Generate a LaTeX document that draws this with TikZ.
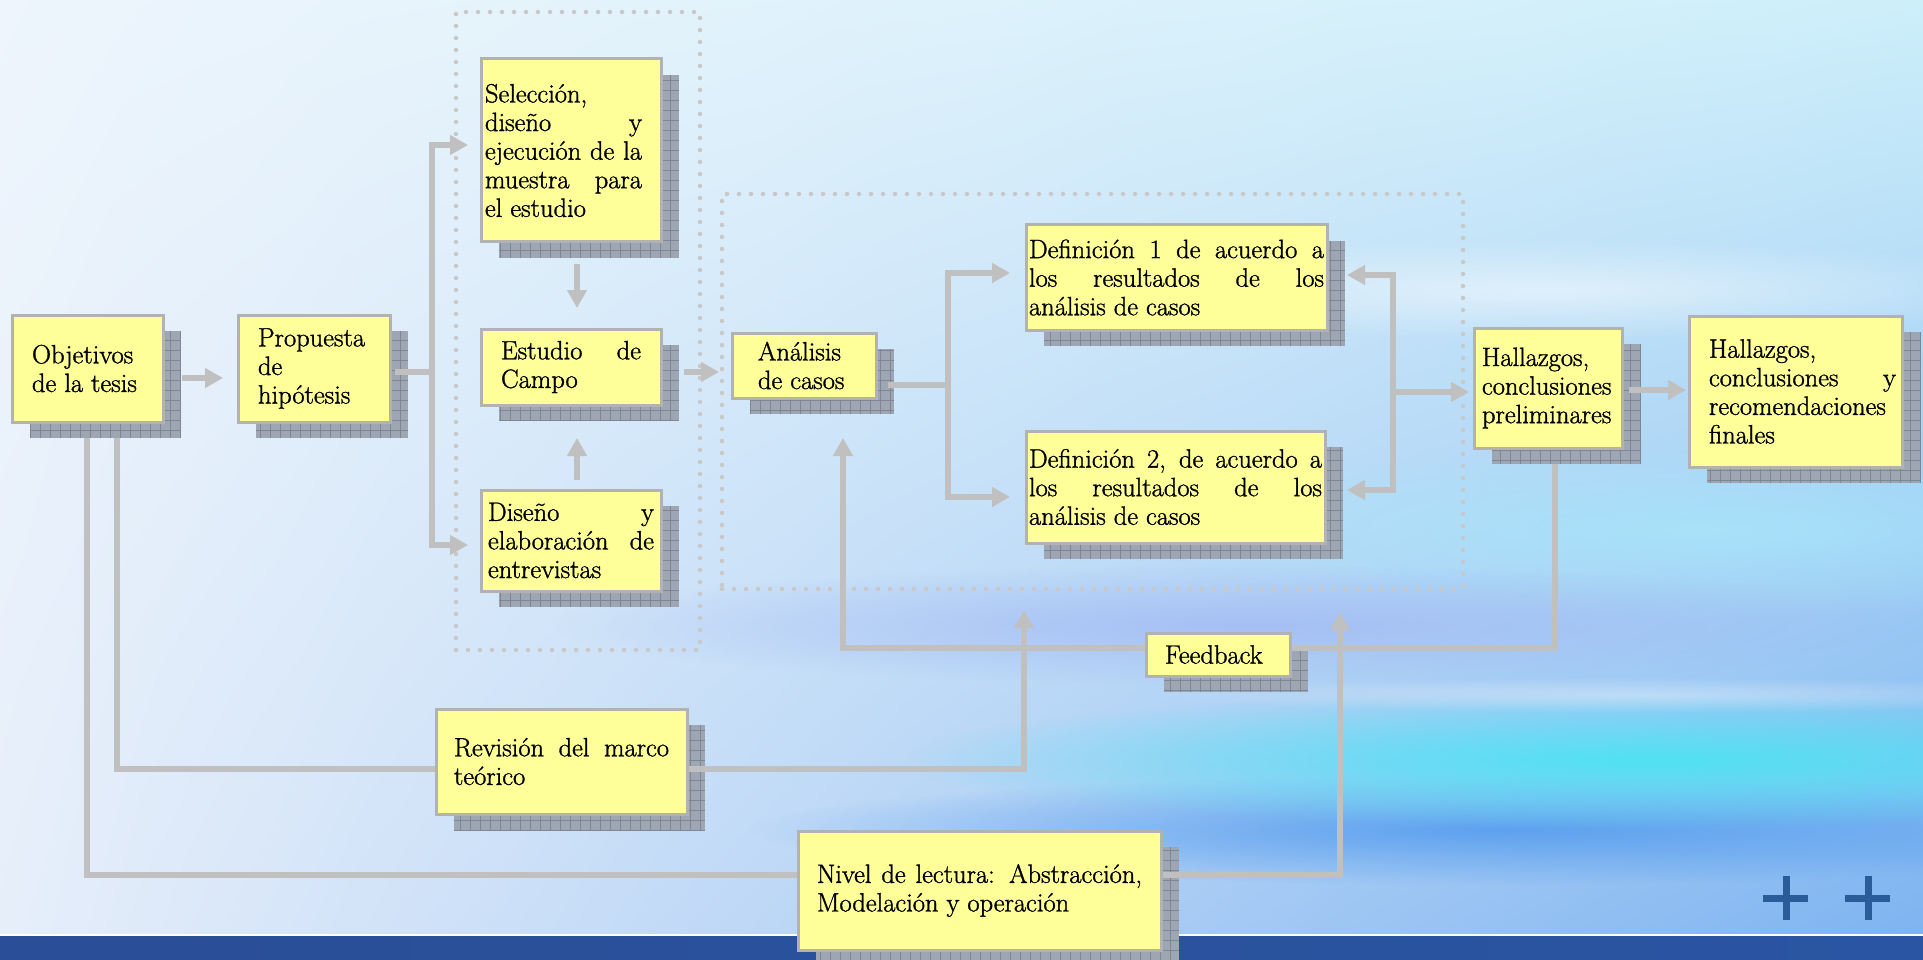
\documentclass[tikz,border=0pt]{standalone}
\usepackage{fontspec}
\newfontfamily\boxfam{lmroman17-regular.otf}[FakeBold=1.2]
\usetikzlibrary{arrows.meta,calc,fadings,shadings}
\definecolor{boxfill}{HTML}{FFFF99}
\definecolor{boxline}{HTML}{B2B2B2}
\definecolor{linegray}{HTML}{C0C0C0}
\definecolor{dotgray}{HTML}{C8C8C8}
\definecolor{shfill}{HTML}{9EA6B4}
\definecolor{shgrid}{HTML}{7E8694}
\definecolor{bgUL}{HTML}{EEF5FC}
\definecolor{bgUR}{HTML}{CDEFFA}
\definecolor{bgLL}{HTML}{E6EEFA}
\definecolor{bgLR}{HTML}{7CB2F0}
\definecolor{streakc}{HTML}{50E2F4}
\definecolor{streakb}{HTML}{4E98EE}
\definecolor{streakl}{HTML}{A2BAF4}
\definecolor{streakw}{HTML}{A8E6FA}
\definecolor{barL}{HTML}{2A4E97}
\definecolor{barM}{HTML}{3434A8}
\definecolor{barR}{HTML}{2A55A2}
\definecolor{plusc}{HTML}{2B5C9A}
\tikzfading[name=softfade, inner color=transparent!0, outer color=transparent!100]
\pgfdeclarelayer{back}
\pgfdeclarelayer{bg}
\pgfdeclarelayer{conn}
\pgfsetlayers{back,bg,conn,main}
\newcommand\boxfont{\boxfam\fontsize{26.5pt}{28.6pt}\selectfont\parindent=0pt\tolerance=10000\hbadness=10000\hfuzz=20pt\relax}
\tikzset{
  box/.style={draw=boxline, fill=boxfill, line width=3pt, anchor=north west,
    outer sep=0pt, inner ysep=0pt, font=\boxfont, align=justify},
  conn/.style={draw=linegray, line width=6pt},
  arr/.style={conn, -{Triangle[length=18pt,width=19pt]}},
  dotgroup/.style={draw=dotgray, line width=4.5pt, dash pattern=on 0pt off 12pt,
    line cap=round, anchor=north west, outer sep=0pt, inner sep=0pt},
  shadowbox/.style={fill=shfill},
  shadowgrid/.style={draw=shgrid, line width=0.8pt},
}
\begin{document}
\begin{tikzpicture}[x=1pt,y=-1pt]
\useasboundingbox (0,0) rectangle (1923,960);
% background
\begin{pgfonlayer}{back}
  \shade[upper left=bgUL, upper right=bgUR, lower left=bgLL, lower right=bgLR] (0,0) rectangle (1923,960);
  \fill[streakw, path fading=softfade, opacity=0.8] (1700,530) ellipse [x radius=600, y radius=90];
  \fill[white, path fading=softfade, opacity=0.5] (1550,290) ellipse [x radius=520, y radius=50];
  \fill[streakl, path fading=softfade, opacity=0.8] (1250,625) ellipse [x radius=700, y radius=60];
  \fill[streakb, path fading=softfade, opacity=0.8] (1500,830) ellipse [x radius=750, y radius=55];
  \fill[streakc, path fading=softfade, opacity=1] (1650,760) ellipse [x radius=750, y radius=70];
  \fill[white, path fading=softfade, opacity=0.35] (1650,695) ellipse [x radius=500, y radius=18];
  \fill[white] (0,933.5) rectangle (1923,936.5);
  \shade[left color=barL, middle color=barM, right color=barR] (0,936.5) rectangle (1923,960);
  \draw[plusc, line width=7pt] (1763,898) -- (1808,898) (1786,876) -- (1786,920)
        (1845,898) -- (1890,898) (1868,876) -- (1868,920);
\end{pgfonlayer}
% dotted groups
\begin{pgfonlayer}{bg}
  \node[dotgroup, minimum width=244pt, minimum height=638pt] (g1) at (456,12) {};
  \node[dotgroup, minimum width=741pt, minimum height=395pt] (g2) at (722,194) {};
\end{pgfonlayer}
% boxes
\node[box, minimum width=151pt, minimum height=107pt, text width=111pt, inner xsep=20pt] (obj) at (12,315) {Objetivos\\de la tesis};
\node[box, minimum width=152pt, minimum height=107pt, text width=112pt, inner xsep=20pt] (prop) at (238,315) {Propuesta\\de\\hipótesis};
\node[box, minimum width=180pt, minimum height=183pt, text width=172pt, inner xsep=4pt] (sel) at (481,59)
  {\rightskip=15pt\relax Selección,\\ diseño y\linebreak ejecución de la\linebreak muestra para\linebreak el estudio\par\vspace*{19pt}};
\node[box, minimum width=180pt, minimum height=76pt, text width=140pt, inner xsep=20pt] (est) at (481,329) {Estudio de\linebreak Campo};
\node[box, minimum width=180pt, minimum height=101pt, text width=166pt, inner xsep=7pt] (dis) at (481,490) {Diseño y\linebreak elaboración de\linebreak entrevistas};
\node[box, minimum width=144pt, minimum height=65pt, text width=92pt, inner xsep=26pt] (ana) at (732,333) {Análisis\\de casos};
\node[box, minimum width=301pt, minimum height=105pt, text width=295pt, inner xsep=3pt] (d1) at (1026,225)
  {Definición 1 de acuerdo a\linebreak los resultados de los\linebreak análisis de casos};
\node[box, minimum width=299pt, minimum height=112pt, text width=293pt, inner xsep=3pt] (d2) at (1026,431)
  {\rightskip=15pt\relax Definición 2, de acuerdo a\linebreak los resultados de los\linebreak análisis de casos};
\node[box, minimum width=148pt, minimum height=120pt, text width=132pt, inner xsep=8pt] (hp) at (1474,328)
  {Hallazgos,\\conclusiones\\preliminares\par\vspace*{6pt}};
\node[box, minimum width=213pt, minimum height=151pt, text width=201pt, inner xsep=6pt] (hf) at (1689,316)
  {\leftskip=14pt\relax Hallazgos,\\ conclusiones y\linebreak recomendaciones\\ finales\par\vspace*{20pt}};
\node[box, minimum width=144pt, minimum height=43pt, text width=106pt, inner xsep=19pt] (fb) at (1146,633) {Feedback};
\node[box, minimum width=251pt, minimum height=105pt, text width=215pt, inner xsep=18pt] (rev) at (436,709)
  {Revisión del marco\linebreak teórico\par\vspace*{7pt}};
\node[box, minimum width=363pt, minimum height=119pt, text width=325pt, inner xsep=19pt] (niv) at (798,831)
  {Nivel de lectura: Abstracción,\linebreak Modelación y operación\par\vspace*{16pt}};
% shadows
\begin{pgfonlayer}{bg}
  \foreach \n in {obj,prop,sel,est,dis,ana,d1,d2,hp,hf,fb,rev,niv}{
    \fill[shadowbox] ($(\n.south west)+(18,16)$) rectangle ($(\n.north east)+(18,16)$);
    \draw[shadowgrid, step=10pt] ($(\n.south west)+(18,16)$) grid ($(\n.north east)+(18,16)$);
  }
\end{pgfonlayer}
% connectors
\begin{pgfonlayer}{conn}
  \draw[arr] ($(obj.east)+(19,9.5)$) -- ($(prop.west)+(-15,9.5)$);
  \coordinate (j1) at (432,372);
  \draw[conn] ($(prop.east)+(5,3.5)$) -- (j1);
  \draw[arr] (j1) |- ($(sel.west)+(-13,-5.5)$);
  \draw[arr] (j1) |- ($(dis.west)+(-13,4.5)$);
  \draw[arr] ($(sel.south)+(6,22)$) -- ($(est.north)+(6,-21)$);
  \draw[arr] ($(dis.north)+(6,-10)$) -- ($(est.south)+(6,33)$);
  \draw[arr] ($(est.east)+(23,5)$) -- ($(ana.west)+(-13,6.5)$);
  \coordinate (j2) at (948,385);
  \draw[conn] ($(ana.east)+(12,19.5)$) -- (j2);
  \draw[arr] (j2) |- ($(d1.west)+(-16,-4.5)$);
  \draw[arr] (j2) |- ($(d2.west)+(-16,10)$);
  \coordinate (j3) at (1393,392);
  \draw[arr] (j3) -- ($(hp.west)+(-5,4)$);
  \draw[arr] (j3) |- ($(d1.east)+(20,-2.5)$);
  \draw[arr] (j3) |- ($(d2.east)+(22,3)$);
  \draw[arr] ($(hp.east)+(7,2)$) -- ($(hf.west)+(-3,-1.5)$);
  \draw[arr] ($(hp.south)+(7,16)$) |- ($(fb.center)+(0,-6.5)$) -| ($(ana.south)+(39,40)$);
  \draw[arr] ($(obj.south)+(29.5,16)$) |- ($(rev.center)+(0,7.5)$) -| ($(g2.south)+(-68.5,21)$);
  \draw[arr] ($(obj.south)+(-0.5,16)$) |- ($(niv.center)+(0,-15.5)$) -| ($(g2.south)+(247.5,23)$);
\end{pgfonlayer}
\end{tikzpicture}
\end{document}
